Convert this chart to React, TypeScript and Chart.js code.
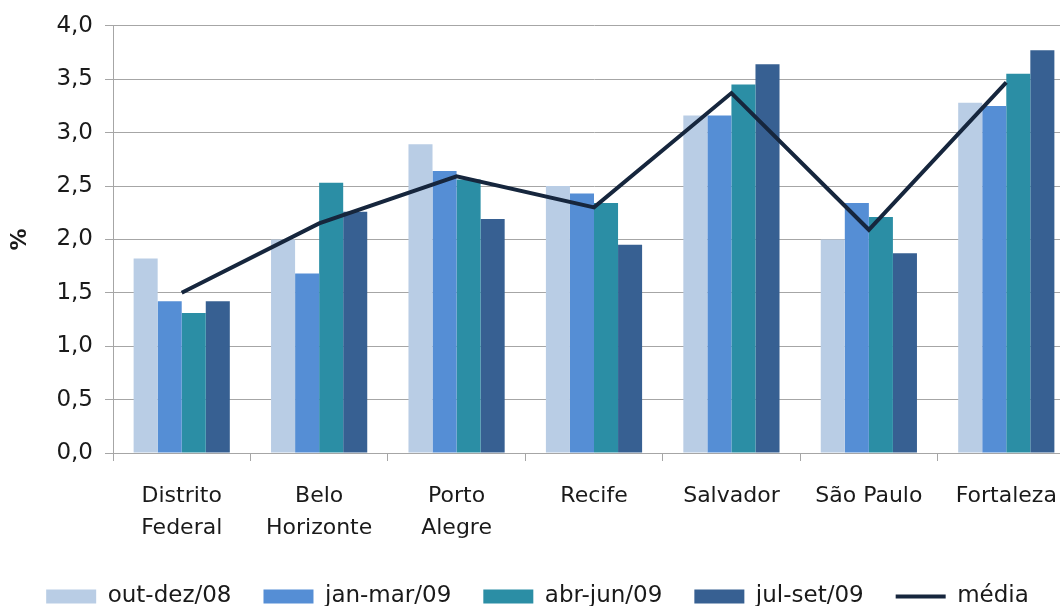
import React, { useEffect, useRef } from 'react';
import { Chart, registerables } from 'chart.js';
Chart.register(...registerables);

const categories: (string | string[])[] = [
  ['Distrito', 'Federal'],
  ['Belo', 'Horizonte'],
  ['Porto', 'Alegre'],
  'Recife',
  'Salvador',
  'São Paulo',
  'Fortaleza',
];
const outDez08 = [1.82, 2.0, 2.89, 2.5, 3.16, 2.0, 3.28];
const janMar09 = [1.42, 1.68, 2.64, 2.43, 3.16, 2.34, 3.25];
const abrJun09 = [1.31, 2.53, 2.56, 2.34, 3.45, 2.21, 3.55];
const julSet09 = [1.42, 2.26, 2.19, 1.95, 3.64, 1.87, 3.77];
const media = [1.5, 2.15, 2.59, 2.3, 3.37, 2.09, 3.47];

const seriesNames = ['out-dez/08', 'jan-mar/09', 'abr-jun/09', 'jul-set/09', 'média'];
const seriesColors = ['#B9CDE5', '#558ED5', '#2B8EA5', '#376092', '#16263D'];

const FONT = "'DejaVu Sans', sans-serif";

export default function App() {
  const ref = useRef<HTMLCanvasElement>(null);
  useEffect(() => {
    if (!ref.current) return;
    const barData = [outDez08, janMar09, abrJun09, julSet09];
    const chart = new Chart(ref.current, {
      type: 'bar',
      data: {
        labels: categories,
        datasets: [
          ...barData.map((d, i) => ({
            type: 'bar' as const,
            label: seriesNames[i],
            data: d,
            backgroundColor: seriesColors[i],
            borderWidth: 0,
            categoryPercentage: 0.7,
            barPercentage: 1.0,
            pointStyle: 'rect',
            order: 1,
          })),
          {
            type: 'line' as const,
            label: seriesNames[4],
            data: media,
            borderColor: seriesColors[4],
            backgroundColor: seriesColors[4],
            borderWidth: 4,
            pointRadius: 0,
            tension: 0,
            pointStyle: 'line',
            order: 0,
          },
        ],
      },
      options: {
        responsive: false,
        animation: false,
        layout: { padding: { top: 14, right: 9, left: 0, bottom: 0 } },
        plugins: {
          tooltip: { enabled: false },
          legend: {
            position: 'bottom',
            labels: {
              usePointStyle: true,
              pointStyleWidth: 50,
              boxWidth: 50,
              boxHeight: 14,
              padding: 32,
              color: '#1a1a1a',
              font: { family: FONT, size: 23 },
              sort: (a: any, b: any) => a.datasetIndex - b.datasetIndex,
            },
          },
        },
        scales: {
          x: {
            offset: true,
            grid: {
              display: true,
              drawOnChartArea: false,
              drawTicks: true,
              tickLength: 8,
              offset: true,
              color: '#A6A6A6',
            },
            border: { color: '#A6A6A6' },
            ticks: {
              color: '#1a1a1a',
              padding: 19,
              maxRotation: 0,
              autoSkip: false,
              font: { family: FONT, size: 22, lineHeight: 1.45 },
            },
            afterFit: (s: any) => {
              s.height = 100;
            },
          },
          y: {
            min: 0,
            max: 4,
            ticks: {
              stepSize: 0.5,
              color: '#1a1a1a',
              padding: 12,
              font: { family: FONT, size: 23 },
              callback: (v: any) => Number(v).toFixed(1).replace('.', ','),
            },
            grid: { color: '#A6A6A6', tickLength: 8 },
            border: { color: '#A6A6A6' },
            title: {
              display: true,
              text: '%',
              color: '#1a1a1a',
              padding: 7,
              font: { family: FONT, size: 22, weight: 'bold' },
            },
            afterFit: (s: any) => {
              s.width = 113;
            },
          },
        },
      },
    });
    return () => chart.destroy();
  }, []);
  return (
    <div
      style={{
        position: 'fixed',
        left: 0,
        top: 0,
        width: 1060,
        height: 606,
        overflow: 'hidden',
        background: '#fff',
      }}
    >
      <canvas ref={ref} width={1084} height={618} style={{ display: 'block' }} />
    </div>
  );
}
